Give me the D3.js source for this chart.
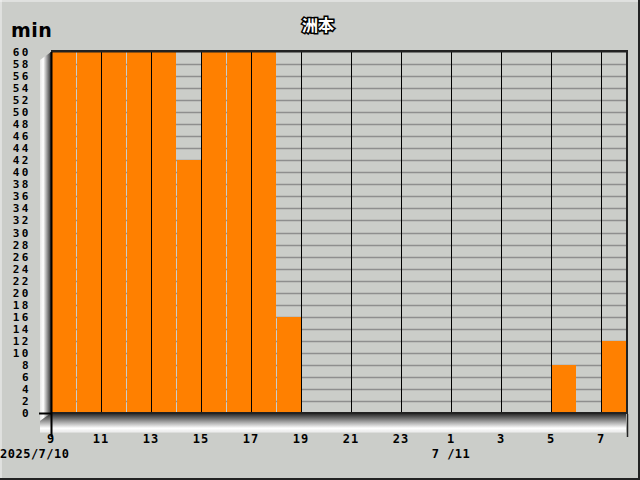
<!DOCTYPE html>
<html><head><meta charset="utf-8">
<script src="https://cdn.jsdelivr.net/npm/d3@7"></script>
<style>body{margin:0;background:#cbcdc9}svg{display:block}</style>
</head><body>
<script>
const title = "洲本";
const unit = "min";
const hours = [9,10,11,12,13,14,15,16,17,18,19,20,21,22,23,0,1,2,3,4,5,6,7];
const values = [60,60,60,60,60,42,60,60,60,16,0,0,0,0,0,0,0,0,0,0,8,0,12];
const yTicks = d3.range(0,61,2);
const dateLabels = [{hour:9, idx:0, text:"2025/7/10"},{hour:1, idx:16, text:"7 /11"}];

const W=640,H=480;
const svg=d3.select("body").append("svg").attr("width",W).attr("height",H);
const bg="#cbcdc9";
svg.append("rect").attr("width",W).attr("height",H).attr("fill",bg);
// outer frame
svg.append("line").attr("x1",0).attr("y1",1).attr("x2",W).attr("y2",1).attr("stroke","#f4f4f4").attr("stroke-width",1);
svg.append("line").attr("x1",1).attr("y1",0).attr("x2",1).attr("y2",H).attr("stroke","#f4f4f4").attr("stroke-width",1);
svg.append("rect").attr("x",W-2).attr("y",0).attr("width",2).attr("height",H).attr("fill","#222");
svg.append("rect").attr("x",0).attr("y",H-2).attr("width",W).attr("height",2).attr("fill","#222");

const x=d3.scaleLinear().domain([0,hours.length]).range([51,626]);
const y=d3.scaleLinear().domain([0,60]).range([413,52]);

const defs=svg.append("defs");
const gl=defs.append("linearGradient").attr("id","wall").attr("x1",0).attr("x2",1).attr("y1",0).attr("y2",0);
gl.append("stop").attr("offset","0").attr("stop-color","#e8e8e8");
gl.append("stop").attr("offset","0.3").attr("stop-color","#ffffff");
gl.append("stop").attr("offset","1").attr("stop-color","#303030");
const gf=defs.append("linearGradient").attr("id","floor").attr("x1",0).attr("x2",0).attr("y1",0).attr("y2",1);
gf.append("stop").attr("offset","0").attr("stop-color","#202020");
gf.append("stop").attr("offset","0.8").attr("stop-color","#ffffff");
gf.append("stop").attr("offset","1").attr("stop-color","#e8e8e8");

// left wall
svg.append("path").attr("d",`M40,60 L51,52 L51,413 L40,421 Z`).attr("fill","url(#wall)");
// floor
svg.append("path").attr("d",`M51,413 L626,413 L626,432 L40,432 L40,421 Z`).attr("fill","url(#floor)");
svg.append("line").attr("x1",40).attr("x2",626).attr("y1",432).attr("y2",432).attr("stroke","#f0f0f0");

// plot background
svg.append("rect").attr("x",51).attr("y",52).attr("width",575).attr("height",361).attr("fill",bg);

// horizontal grid
svg.append("g").selectAll("line").data(yTicks.filter(v=>v>0&&v<60)).join("line")
 .attr("x1",51).attr("x2",626).attr("y1",d=>Math.round(y(d))+0.5).attr("y2",d=>Math.round(y(d))+0.5)
 .attr("stroke","#8e8e8e").attr("stroke-width",1.5);

// bars
svg.append("g").selectAll("rect").data(values).join("rect")
 .attr("x",(d,i)=>x(i)+1).attr("width",(d,i)=>x(i+1)-x(i)-1)
 .attr("y",d=>Math.round(y(d))).attr("height",d=>413-Math.round(y(d)))
 .attr("fill","#ff8000");

// vertical lines at every other hour
svg.append("g").selectAll("line").data(d3.range(2,hours.length,2)).join("line")
 .attr("x1",d=>x(d)+0.5).attr("x2",d=>x(d)+0.5).attr("y1",52).attr("y2",413)
 .attr("stroke","#000").attr("stroke-width",1);

// frame lines
svg.append("rect").attr("x",51).attr("y",50).attr("width",576).attr("height",2.5).attr("fill","#222");
svg.append("rect").attr("x",626).attr("y",50).attr("width",2).attr("height",364).attr("fill","#222");
svg.append("rect").attr("x",51).attr("y",412).attr("width",577).attr("height",2).attr("fill","#222");
svg.append("line").attr("x1",39).attr("x2",52).attr("y1",413.5).attr("y2",413.5).attr("stroke","#000").attr("stroke-width",2);
svg.append("line").attr("x1",51.5).attr("x2",51.5).attr("y1",52).attr("y2",437).attr("stroke","#000").attr("stroke-width",2);
svg.append("line").attr("x1",627.5).attr("x2",627.5).attr("y1",414).attr("y2",437).attr("stroke","#222").attr("stroke-width",1.5);

const font="'DejaVu Sans Mono', monospace";
// y labels
svg.append("g").selectAll("text").data(yTicks).join("text")
 .attr("x",31).attr("y",d=>y(d)+4).attr("text-anchor","end")
 .attr("font-family",font).attr("font-weight","bold").attr("font-size",11)
 .attr("letter-spacing","2.5px").attr("fill","#000").text(d=>d);

// x labels
svg.append("g").selectAll("text").data(hours.map((h,i)=>({h,i})).filter(d=>d.i%2===0)).join("text")
 .attr("x",d=>x(d.i)).attr("y",443).attr("text-anchor","middle")
 .attr("font-family",font).attr("font-weight","bold").attr("font-size",12)
 .attr("letter-spacing","1px").attr("fill","#000").text(d=>d.h);

svg.append("g").selectAll("text").data(dateLabels).join("text")
 .attr("x",d=>d.idx===0?0:x(d.idx)).attr("y",458).attr("text-anchor",d=>d.idx===0?"start":"middle")
 .attr("font-family",font).attr("font-weight","bold").attr("font-size",12)
 .attr("letter-spacing","0.5px").attr("fill","#000").text(d=>d.text);

// unit
svg.append("text").attr("x",11).attr("y",37).attr("font-family","'DejaVu Sans', sans-serif")
 .attr("font-weight","bold").attr("font-size",19).attr("letter-spacing","0.5px").attr("fill","#000").text(unit);
// title
svg.append("text").attr("x",318).attr("y",31).attr("text-anchor","middle")
 .attr("font-family","'Noto Sans CJK JP', sans-serif").attr("font-weight","bold").attr("font-size",16)
 .attr("fill","#fff").attr("stroke","#000").attr("stroke-width",3).attr("paint-order","stroke").text(title);
</script>
</body></html>
